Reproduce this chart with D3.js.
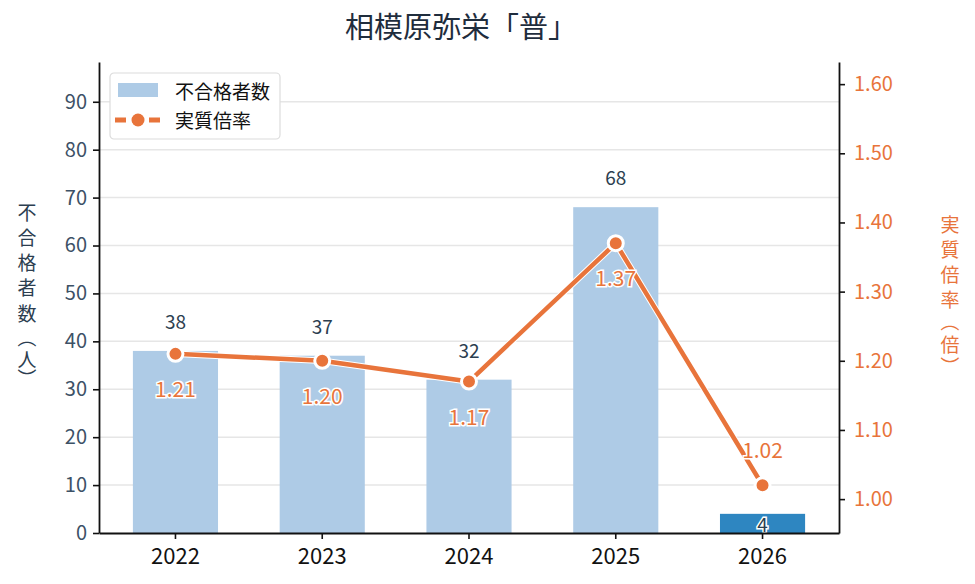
<!DOCTYPE html>
<html>
<head>
<meta charset="utf-8">
<script src="https://cdn.jsdelivr.net/npm/d3@7"></script>
<style>
  body { margin: 0; background: #fff; }
  svg, svg text { font-family: "Noto Sans CJK JP", "Noto Sans", sans-serif; }
</style>
</head>
<body>
<svg width="975" height="584"></svg>
<script>
// data
var years = ["2022", "2023", "2024", "2025", "2026"];
var failCounts = [38, 37, 32, 68, 4];
var ratios = [1.21, 1.20, 1.17, 1.37, 1.02];
var leftTicks = [0, 10, 20, 30, 40, 50, 60, 70, 80, 90];
var rightTicks = [1.00, 1.10, 1.20, 1.30, 1.40, 1.50, 1.60];

var svg = d3.select("svg"),
  margin = { top: 62, right: 136, bottom: 51, left: 99 },
  width = 975 - margin.left - margin.right,
  height = 584 - margin.top - margin.bottom;

var orange = "#e8743b", navy = "#2c3e50", slate = "#3d5166";

var x = d3.scaleBand().domain(years).range([0, width]).paddingInner(0.42).paddingOuter(0.231);
var y = d3.scaleLinear().domain([0, 98.3]).range([height, 0]);
var y2 = d3.scaleLinear().domain([0.951, 1.632]).range([height, 0]);

svg.append("text")
  .attr("x", 345).attr("y", 38)
  .attr("font-size", 29).attr("fill", "#1f2d3d")
  .text("相模原弥栄「普」");

var g = svg.append("g").attr("transform", "translate(" + margin.left + "," + margin.top + ")");

// grid
g.selectAll(".grid").data(leftTicks.slice(1)).enter().append("line")
  .attr("x1", 0).attr("x2", width)
  .attr("y1", function (d) { return y(d); }).attr("y2", function (d) { return y(d); })
  .attr("stroke", "#e6e6e6").attr("stroke-width", 1.5);

// bars
g.selectAll(".bar").data(failCounts).enter().append("rect")
  .attr("x", function (d, i) { return x(years[i]); })
  .attr("y", function (d) { return y(d); })
  .attr("width", x.bandwidth())
  .attr("height", function (d) { return height - y(d); })
  .attr("fill", function (d, i) { return i === years.length - 1 ? "#2e86c1" : "#aecbe6"; });

// bar labels
g.selectAll(".blab").data(failCounts).enter().append("text")
  .attr("x", function (d, i) { return x(years[i]) + x.bandwidth() / 2; })
  .attr("y", function (d, i) { return i === years.length - 1 ? y(d) + 18 : y(d) - 22; })
  .attr("text-anchor", "middle")
  .attr("font-size", 19)
  .attr("fill", navy)
  .attr("stroke", function (d, i) { return i === years.length - 1 ? "#fff" : "none"; })
  .attr("stroke-width", 3).attr("paint-order", "stroke")
  .text(function (d) { return d; });

// axes
var axL = g.append("g").call(d3.axisLeft(y).tickValues(leftTicks).tickSize(6).tickSizeOuter(0));
var axR = g.append("g").attr("transform", "translate(" + width + ",0)")
  .call(d3.axisRight(y2).tickValues(rightTicks).tickFormat(d3.format(".2f")).tickSize(6).tickSizeOuter(0));
var axB = g.append("g").attr("transform", "translate(0," + height + ")")
  .call(d3.axisBottom(x).tickSize(6).tickSizeOuter(0));
[axL, axR, axB].forEach(function (a) {
  a.attr("font-family", null).attr("font-size", null);
  a.select(".domain").attr("stroke", "#111").attr("stroke-width", 1.8);
  a.selectAll(".tick line").attr("stroke", "#111").attr("stroke-width", 1.6);
});
axL.selectAll("text").attr("font-size", 20).attr("fill", slate).attr("x", -12);
axR.selectAll("text").attr("font-size", 20).attr("fill", orange).attr("x", 15);
axB.selectAll("text").attr("font-size", 22).attr("fill", "#111").attr("dy", "1.0em");

// line
var line = d3.line()
  .x(function (d, i) { return x(years[i]) + x.bandwidth() / 2; })
  .y(function (d) { return y2(d); });
g.append("path").datum(ratios).attr("d", line)
  .attr("fill", "none").attr("stroke", "#fff").attr("stroke-width", 6.5).attr("stroke-linejoin", "round");
g.append("path").datum(ratios).attr("d", line)
  .attr("fill", "none").attr("stroke", orange).attr("stroke-width", 4.5).attr("stroke-linejoin", "round");
g.selectAll(".pt").data(ratios).enter().append("circle")
  .attr("cx", function (d, i) { return x(years[i]) + x.bandwidth() / 2; })
  .attr("cy", function (d) { return y2(d); })
  .attr("r", 7.5)
  .attr("fill", orange).attr("stroke", "#fff").attr("stroke-width", 3);

// line labels
g.selectAll(".llab").data(ratios).enter().append("text")
  .attr("x", function (d, i) { return x(years[i]) + x.bandwidth() / 2; })
  .attr("y", function (d, i) { return i === years.length - 1 ? y2(d) - 27 : y2(d) + 43; })
  .attr("text-anchor", "middle")
  .attr("font-size", 21)
  .attr("fill", orange).attr("stroke", "#fff").attr("stroke-width", 3).attr("paint-order", "stroke")
  .text(function (d) { return d3.format(".2f")(d); });

// axis titles, stacked one character per line; brackets turned a quarter
function vtitle(chars, cx, ys, color, size) {
  svg.append("g").selectAll("text").data(chars).enter().append("text")
    .attr("x", cx).attr("y", function (d, i) { return ys[i]; })
    .attr("transform", function (d, i) {
      return (d === "（" || d === "）") ? "rotate(90," + cx + "," + ys[i] + ")" : null;
    })
    .attr("text-anchor", "middle").attr("dominant-baseline", "central")
    .attr("font-size", size).attr("fill", color)
    .text(function (d) { return d; });
}
vtitle(["不", "合", "格", "者", "数", "（", "人", "）"], 27,
  [211, 236, 261, 286, 312, 338, 358, 378], navy, 19);
vtitle(["実", "質", "倍", "率", "（", "倍", "）"], 950,
  [223, 248, 273, 298, 322, 343, 366], orange, 19);

// legend
var lg = svg.append("g").attr("transform", "translate(110,73)");
lg.append("rect").attr("width", 170).attr("height", 66).attr("rx", 4)
  .attr("fill", "#fff").attr("stroke", "#dcdcdc").attr("stroke-width", 1.2);
lg.append("rect").attr("x", 8).attr("y", 10).attr("width", 40).attr("height", 14).attr("fill", "#aecbe6");
lg.append("text").attr("x", 65).attr("y", 17).attr("dominant-baseline", "central")
  .attr("font-size", 19).attr("fill", "#111").text("不合格者数");
lg.append("line").attr("x1", 5).attr("x2", 50).attr("y1", 47).attr("y2", 47)
  .attr("stroke", orange).attr("stroke-width", 5).attr("stroke-dasharray", "11,6");
lg.append("circle").attr("cx", 28).attr("cy", 47).attr("r", 6.5).attr("fill", orange);
lg.append("text").attr("x", 65).attr("y", 46).attr("dominant-baseline", "central")
  .attr("font-size", 19).attr("fill", "#111").text("実質倍率");
</script>
</body>
</html>
